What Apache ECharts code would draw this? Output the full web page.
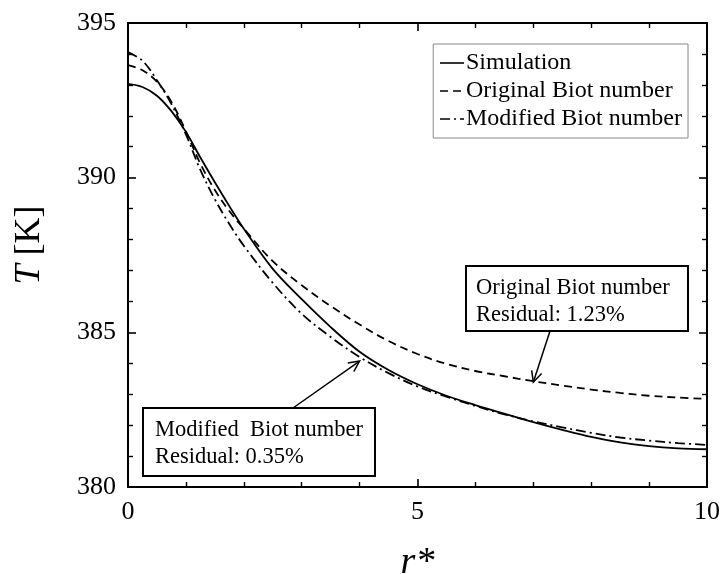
<!DOCTYPE html>
<html>
<head>
<meta charset="utf-8">
<script src="https://cdn.jsdelivr.net/npm/echarts@6/dist/echarts.min.js"></script>
<style>
  html, body { margin: 0; padding: 0; background: #ffffff; }
  #chart { width: 724px; height: 574px; }
</style>
</head>
<body>
<div id="chart"></div>
<script>
// Dimensionless radius r* and temperature profiles T [K]
const rValues = [0, 0.25, 0.5, 0.75, 1, 1.25, 1.5, 1.75, 2, 2.5, 3, 3.5, 4, 4.5, 5, 5.5, 6, 6.5, 7, 7.5, 8, 8.5, 9, 9.5, 10];
const simulation = [393.03, 392.93, 392.65, 392.15, 391.48, 390.65, 389.85, 389.08, 388.35, 387.05, 386.07, 385.17, 384.37, 383.78, 383.32, 382.95, 382.65, 382.37, 382.1, 381.85, 381.62, 381.44, 381.32, 381.25, 381.22];
const originalBiot = [393.64, 393.47, 393.1, 392.45, 391.5, 390.45, 389.6, 388.92, 388.35, 387.3, 386.52, 385.85, 385.25, 384.72, 384.3, 383.98, 383.75, 383.58, 383.42, 383.28, 383.15, 383.04, 382.95, 382.89, 382.85];
const modifiedBiot = [394.06, 393.78, 393.15, 392.38, 391.4, 390.25, 389.3, 388.5, 387.8, 386.6, 385.6, 384.85, 384.2, 383.68, 383.25, 382.92, 382.62, 382.35, 382.12, 381.93, 381.75, 381.6, 381.5, 381.42, 381.36];

const seriesNames = ['Simulation', 'Original Biot number', 'Modified Biot number'];
const xTickValues = [0, 5, 10];
const yTickValues = [380, 385, 390, 395];

// Callout texts and the radius each one points at
const calloutOriginal = { lines: ['Original Biot number', 'Residual: 1.23%'], r: 7 };
const calloutModified = { lines: ['Modified\u2002Biot number', 'Residual: 0.35%'], r: 4 };

const SERIF = '"Liberation Serif", "Times New Roman", serif';
const pairs = vals => rValues.map((r, i) => [r, vals[i]]);

const chart = echarts.init(document.getElementById('chart'), null, { renderer: 'canvas' });

const tickStep = a => a[1] - a[0];

function valueAxis(ticks, position, showLabels, extra) {
  return Object.assign({
    type: 'value',
    position: position,
    min: ticks[0],
    max: ticks[ticks.length - 1],
    interval: tickStep(ticks),
    axisLine: { show: true, onZero: false, lineStyle: { color: '#000', width: 2 } },
    axisTick: { show: true, inside: true, length: 8, lineStyle: { color: '#000', width: 1.6 } },
    minorTick: { show: true, splitNumber: 5, length: 5, lineStyle: { color: '#000', width: 1.4 } },
    splitLine: { show: false },
    minorSplitLine: { show: false },
    axisLabel: { show: showLabels, color: '#000', fontFamily: SERIF, fontSize: 26, margin: 12 }
  }, extra || {});
}

const option = {
  backgroundColor: '#ffffff',
  animation: false,
  grid: { left: 128, right: 17, top: 23, bottom: 87, containLabel: false, outerBoundsMode: 'none' },
  xAxis: [
    valueAxis(xTickValues, 'bottom', true, {
      name: 'r*',
      nameLocation: 'middle',
      nameGap: 57,
      nameTextStyle: { fontFamily: SERIF, fontSize: 38, fontStyle: 'italic', color: '#000' }
    }),
    valueAxis(xTickValues, 'top', false)
  ],
  yAxis: [
    valueAxis(yTickValues, 'left', true, {
      name: '{i|T}{n| [K]}',
      nameLocation: 'middle',
      nameGap: 80,
      nameTextStyle: {
        color: '#000',
        padding: [0, 0, 0, 20],
        rich: {
          i: { fontFamily: SERIF, fontSize: 36, fontStyle: 'italic', color: '#000' },
          n: { fontFamily: SERIF, fontSize: 36, color: '#000' }
        }
      }
    }),
    valueAxis(yTickValues, 'right', false)
  ],
  legend: {
    data: seriesNames,
    orient: 'vertical',
    right: 36,
    top: 44,
    align: 'left',
    itemWidth: 24,
    itemHeight: 14,
    itemGap: 4,
    padding: [7, 6, 7, 6],
    borderColor: '#888',
    borderWidth: 1,
    backgroundColor: '#fff',
    itemStyle: { color: 'rgba(0,0,0,0)', borderColor: 'rgba(0,0,0,0)', borderWidth: 0 },
    lineStyle: { width: 1.6 },
    textStyle: { fontFamily: SERIF, fontSize: 24, lineHeight: 24, color: '#000', padding: [0, 0, 0, -3] }
  },
  series: [
    {
      name: seriesNames[0], type: 'line', data: pairs(simulation),
      xAxisIndex: 0, yAxisIndex: 0,
      showSymbol: false, symbol: 'none', smooth: 0.35,
      lineStyle: { color: '#000', width: 1.8, type: 'solid' },
      itemStyle: { color: '#000' }
    },
    {
      name: seriesNames[1], type: 'line', data: pairs(originalBiot),
      xAxisIndex: 0, yAxisIndex: 0,
      showSymbol: false, symbol: 'none', smooth: 0.35,
      lineStyle: { color: '#000', width: 1.8, type: [8, 5] },
      itemStyle: { color: '#000' }
    },
    {
      name: seriesNames[2], type: 'line', data: pairs(modifiedBiot),
      xAxisIndex: 0, yAxisIndex: 0,
      showSymbol: false, symbol: 'none', smooth: 0.35,
      lineStyle: { color: '#000', width: 1.8, type: [10, 4, 2, 4] },
      itemStyle: { color: '#000' }
    }
  ]
};

chart.setOption(option);

// Boxed callouts with open-head arrows pointing onto the curves
function arrowElements(sx, sy, tx, ty) {
  const ang = Math.atan2(ty - sy, tx - sx);
  const len = 12, spread = Math.PI / 7;
  const p1 = [tx - len * Math.cos(ang - spread), ty - len * Math.sin(ang - spread)];
  const p2 = [tx - len * Math.cos(ang + spread), ty - len * Math.sin(ang + spread)];
  return [
    { type: 'line', shape: { x1: sx, y1: sy, x2: tx, y2: ty }, style: { stroke: '#000', lineWidth: 1.5 }, z: 100 },
    { type: 'polyline', shape: { points: [p1, [tx, ty], p2] }, style: { stroke: '#000', lineWidth: 1.5, fill: null }, z: 100 }
  ];
}

function calloutBox(x, y, w, h, lines, textX) {
  const els = [
    { type: 'rect', shape: { x: x, y: y, width: w, height: h },
      style: { fill: '#fff', stroke: '#000', lineWidth: 2 }, z: 100 }
  ];
  lines.forEach((t, i) => {
    els.push({
      type: 'text', x: textX, y: y + 22 + i * 27, z: 101,
      style: { text: t, font: '22.5px ' + SERIF, fill: '#000', textVerticalAlign: 'middle' }
    });
  });
  return els;
}

const idxO = rValues.indexOf(calloutOriginal.r);
const idxM = rValues.indexOf(calloutModified.r);
const tipO = chart.convertToPixel({ xAxisIndex: 0, yAxisIndex: 0 }, [calloutOriginal.r, originalBiot[idxO]]);
const tipM = chart.convertToPixel({ xAxisIndex: 0, yAxisIndex: 0 }, [calloutModified.r, modifiedBiot[idxM]]);

const graphics = []
  .concat(arrowElements(550, 331, tipO[0], tipO[1] + 1))
  .concat(arrowElements(293, 408, tipM[0], tipM[1] + 4))
  .concat(calloutBox(466, 266, 222, 65, calloutOriginal.lines, 476))
  .concat(calloutBox(143, 408, 232, 68, calloutModified.lines, 155));

chart.setOption({ graphic: { elements: graphics } });
</script>
</body>
</html>
